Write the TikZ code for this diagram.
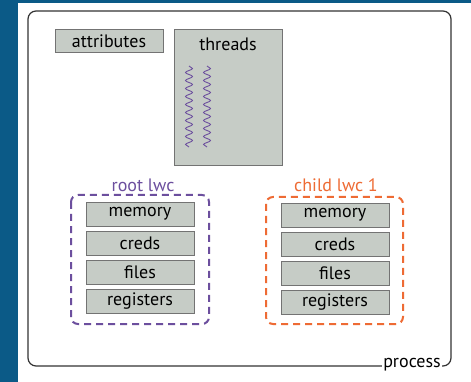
\documentclass[tikz,border=0pt]{standalone}
\usepackage{fontspec}
\setmainfont{PT Sans}
\usetikzlibrary{decorations.pathmorphing}

\definecolor{bgblue}{HTML}{0B5A87}
\definecolor{boxgray}{HTML}{C6CCC6}
\definecolor{lwcpurple}{HTML}{6C4F9E}
\definecolor{lwcorange}{HTML}{EE6B34}

\tikzset{
  part/.style={draw=black!55, fill=boxgray, minimum width=108pt, minimum height=24pt,
    inner sep=0pt, font=\fontsize{18}{20}\selectfont},
  lwcbox/.style={line width=2pt, rounded corners=7pt, dash pattern=on 7pt off 5pt},
  lbl/.style={inner sep=1pt, font=\fontsize{18}{20}\selectfont}
}

\begin{document}
\begin{tikzpicture}[x=1pt,y=-1pt]

            \fill[bgblue] (0,0) rectangle (471,382);
            \fill[white] (18,3) rectangle (471,382);
            \useasboundingbox (0,0) rectangle (471,382);

            \draw[black!80, line width=1.2pt, rounded corners=8pt] (28,11) rectangle (451,366);
            \node[lbl, fill=white] (proc) at (412,365) {process};

            \node[part, minimum height=23pt] (attr) at (109,41) {attributes};
            \node[part, minimum height=136pt, anchor=north] (thr) at (228,29) {};
            \node[lbl] (thrlbl) at (228,44) {threads};

            \foreach \x in {189,207}{
              \draw[lwcpurple, line width=0.9pt, decorate,
                decoration={snake, segment length=8pt, amplitude=3.5pt}] (\x,66) -- (\x,147);
            }

            \node[lbl, lwcpurple] (rootlbl) at (143,185) {root lwc};
            \node[lbl, lwcorange] (childlbl) at (336,185) {child lwc 1};

            \draw[lwcbox, lwcpurple] (71,195) rectangle (209,324);
            \draw[lwcbox, lwcorange] (266,197) rectangle (403,324);

            \foreach \n [count=\i from 0] in {memory,creds,files,registers}{
              \node[part] (root\n) at (140,214+29*\i) {\n};
              \node[part] (child\n) at (335,215+29*\i) {\n};
            }

        \end{tikzpicture}
\end{document}
